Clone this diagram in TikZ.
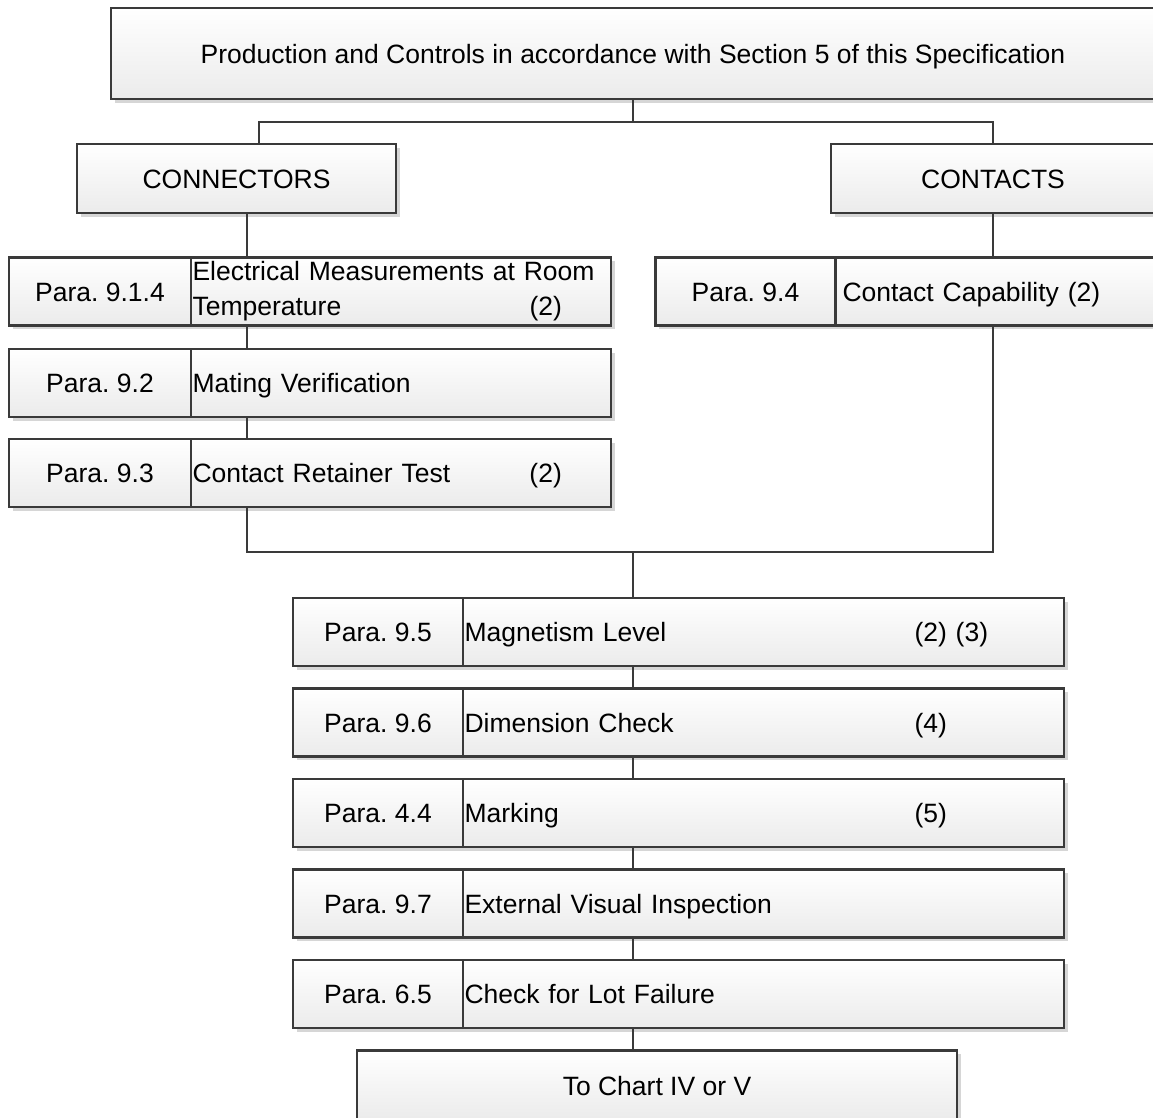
\documentclass[tikz,border=0pt]{standalone}
\usepackage{fontspec}
\setmainfont{Liberation Sans}
\usetikzlibrary{calc,shadows}
\definecolor{linec}{HTML}{3A3A3A}
\definecolor{fillb}{HTML}{EBEBEB}
\definecolor{shadowc}{HTML}{D6D6D6}
\tikzset{
  box/.style={draw=linec, line width=2.4pt, top color=white, bottom color=fillb,
    font=\fontsize{26.5}{35}\selectfont\frenchspacing, inner sep=0pt, outer sep=0pt,
    text height=19pt, text depth=0pt,
    drop shadow={shadow xshift=3.5pt, shadow yshift=-3.5pt, fill=shadowc, opacity=1}},
  lab/.style={box, minimum height=68pt},
  txt/.style={box, minimum height=68pt, anchor=west, align=left, inner xsep=1.5pt},
  link/.style={draw=linec, line width=2.4pt}
}
\begin{document}
\begin{tikzpicture}[x=1pt,y=-1pt]
\useasboundingbox (0,0) rectangle (1153,1117);
\clip (0,0) rectangle (1153,1117);
% junctions
\coordinate (j1) at (633,122);
\coordinate (j2) at (633,552);
% top
\node[box, minimum width=1044pt, minimum height=91pt] (top) at (633,53.5)
  {Production and Controls in accordance with Section 5 of this Specification};
\node[box, minimum width=319pt, minimum height=69pt] (conn) at (236.5,178.5) {CONNECTORS};
\node[box, minimum width=324pt, minimum height=69pt] (cont) at (993,178.5) {CONTACTS};
% connectors column
\node[lab, minimum width=182pt] (p914) at (100,291.5) {Para. 9.1.4};
\node[txt, text width=417pt, text height={}, text depth={}] (t914) at (p914.east)
  {Electrical Measurements at Room\\\makebox[337pt][l]{Temperature}(2)};
\node[lab, minimum width=182pt] (p92) at (100,383) {Para. 9.2};
\node[txt, text width=417pt] (t92) at (p92.east) {Mating Verification};
\node[lab, minimum width=182pt] (p93) at (100,473) {Para. 9.3};
\node[txt, text width=417pt] (t93) at (p93.east)
  {\makebox[337pt][l]{Contact Retainer Test}(2)};
% contacts column
\node[lab, minimum width=180pt] (p94) at (745.5,291.5) {Para. 9.4};
\node[txt, text width=311pt, inner xsep=7pt] (t94) at (p94.east) {Contact Capability (2)};
% common chain
\node[lab, minimum width=170pt] (p95) at (378,632) {Para. 9.5};
\node[txt, text width=598pt] (t95) at (p95.east) {\makebox[450pt][l]{Magnetism Level}(2) (3)};
\node[lab, minimum width=170pt] (p96) at (378,722.5) {Para. 9.6};
\node[txt, text width=598pt] (t96) at (p96.east) {\makebox[450pt][l]{Dimension Check}(4)};
\node[lab, minimum width=170pt] (p44) at (378,813) {Para. 4.4};
\node[txt, text width=598pt] (t44) at (p44.east) {\makebox[450pt][l]{Marking}(5)};
\node[lab, minimum width=170pt] (p97) at (378,903.5) {Para. 9.7};
\node[txt, text width=598pt] (t97) at (p97.east) {External Visual Inspection};
\node[lab, minimum width=170pt] (p65) at (378,994) {Para. 6.5};
\node[txt, text width=598pt] (t65) at (p65.east) {Check for Lot Failure};
\node[box, minimum width=600pt, minimum height=70pt] (chart) at (657,1085.5) {To Chart IV or V};
% links
\draw[link] (top.south) -- (j1);
\draw[link] ([xshift=22.5pt]conn.north) |- (j1) -| (cont.north);
\draw[link] ([xshift=10.5pt]conn.south) -- ([xshift=10.5pt]conn.south |- t914.north);
\draw[link] ([xshift=56pt]t914.south west) -- ([xshift=56pt]t92.north west);
\draw[link] ([xshift=56pt]t92.south west) -- ([xshift=56pt]t93.north west);
\draw[link] ([xshift=56pt]t93.south west) |- (j2);
\draw[link] (cont.south) -- (cont.south |- t94.north);
\draw[link] (cont.south |- t94.south) |- (j2);
\draw[link] (j2) -- (j2 |- t95.north);
\draw[link] ([xshift=170pt]t95.south west) -- ([xshift=170pt]t96.north west);
\draw[link] ([xshift=170pt]t96.south west) -- ([xshift=170pt]t44.north west);
\draw[link] ([xshift=170pt]t44.south west) -- ([xshift=170pt]t97.north west);
\draw[link] ([xshift=170pt]t97.south west) -- ([xshift=170pt]t65.north west);
\draw[link] ([xshift=170pt]t65.south west) -- ([xshift=170pt]t65.south west |- chart.north);
\end{tikzpicture}
\end{document}
